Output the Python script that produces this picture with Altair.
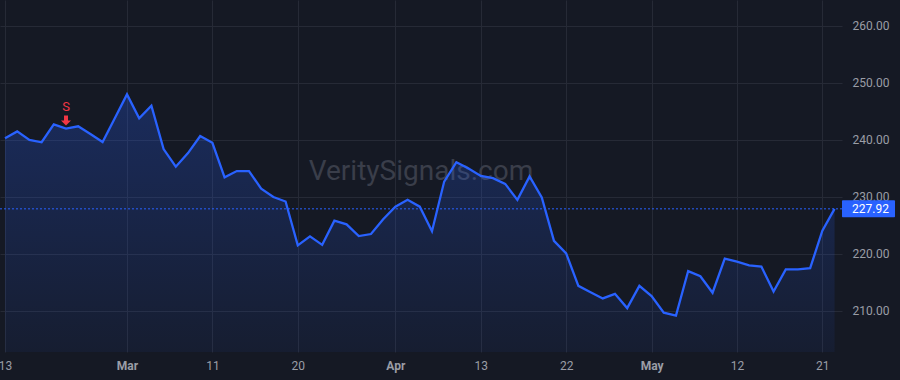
import altair as alt
import pandas as pd

# ---- data ----
prices = [240.3, 241.5, 240.0, 239.6, 242.75, 242.0, 242.4, 241.05, 239.65, 243.8,
          248.0, 243.8, 246.0, 238.4, 235.3, 237.7, 240.7, 239.5, 233.45, 234.55,
          234.55, 231.45, 230.0, 229.2, 221.5, 223.1, 221.6, 225.85, 225.2, 223.15,
          223.5, 226.1, 228.3, 229.5, 228.3, 224.0, 232.7, 236.1, 235.0, 233.7,
          233.3, 232.3, 229.5, 233.6, 229.9, 222.3, 220.1, 214.4, 213.3, 212.2,
          213.0, 210.5, 214.4, 212.6, 209.7, 209.2, 217.0, 216.1, 213.2, 219.2,
          218.65, 218.0, 217.8, 213.4, 217.3, 217.3, 217.5, 224.1, 227.92]
tick_index = [0, 10, 17, 24, 32, 39, 46, 53, 60, 67]
tick_labels = ["13", "Mar", "11", "20", "Apr", "13", "22", "May", "12", "21"]
month_ticks = [10, 32, 53]
price_ticks = [210, 220, 230, 240, 250, 260]
signal_index = [5]
signal_text = ["S"]
last_price = prices[-1]
watermark = "VeritySignals.com"

BG = "#151924"
GRID = "#262a36"
TXT = "#9a9da6"
BLUE = "#2962FF"
RED = "#F23645"
Y_MIN, Y_MAX = 202.8, 264.56
X_MIN, X_MAX = -0.41, 68.61

df = pd.DataFrame({"i": list(range(len(prices))), "price": prices})
sig = pd.DataFrame({"i": signal_index, "price": [prices[k] for k in signal_index], "t": signal_text})
last = pd.DataFrame({"price": [last_price], "t": [f"{last_price:.2f}"]})
wm = pd.DataFrame({"t": [watermark]})

label_map = "{" + ",".join(f"'{k}':'{v}'" for k, v in zip(tick_index, tick_labels)) + "}"
month_test = " || ".join(f"datum.value == {m}" for m in month_ticks)

xscale = alt.Scale(domain=[X_MIN, X_MAX], nice=False, zero=False)
yscale = alt.Scale(domain=[Y_MIN, Y_MAX], nice=False, zero=False)

x_enc = alt.X("i:Q", scale=xscale, axis=alt.Axis(
    values=tick_index, labelExpr=f"{label_map}[datum.value]", title=None,
    grid=True, gridColor=GRID, domain=False, ticks=False, labelPadding=8,
    labelColor=TXT, labelFontSize=12, labelFont="Roboto",
    labelFontWeight={"condition": {"test": month_test, "value": "bold"}, "value": "normal"},
))
y_enc = alt.Y("price:Q", scale=yscale, axis=alt.Axis(
    orient="right", values=price_ticks, format=".2f", title=None,
    grid=True, gridColor=GRID, domain=False, ticks=False, labelPadding=10,
    labelColor=TXT, labelFontSize=12, labelFont="Roboto",
))

wm_layer = alt.Chart(wm).mark_text(
    fontSize=28, font="Roboto", color="#3a3e4a", align="center", baseline="middle"
).encode(x=alt.value(421), y=alt.value(172), text="t:N")

area = alt.Chart(df).mark_area(
    color=alt.Gradient(
        gradient="linear",
        stops=[alt.GradientStop(color="rgba(41,98,255,0.26)", offset=0),
               alt.GradientStop(color="rgba(41,98,255,0.06)", offset=1)],
        x1=1, x2=1, y1=0, y2=1,
    )
).encode(x=x_enc, y=y_enc, y2=alt.datum(Y_MIN))

line = alt.Chart(df).mark_line(color=BLUE, strokeWidth=2.3).encode(x="i:Q", y="price:Q")

rule = alt.Chart(last).mark_rule(color=BLUE, strokeWidth=1, strokeDash=[2, 2]).encode(
    y="price:Q", x=alt.value(0), x2=alt.value(842))

box = alt.Chart(last).mark_rect(color=BLUE, height=17, cornerRadius=1).encode(
    y="price:Q", x=alt.value(842), x2=alt.value(895))
box_text = alt.Chart(last).mark_text(
    color="white", fontSize=12, font="Roboto", align="left", baseline="middle"
).encode(y="price:Q", x=alt.value(852), text="t:N")

arrow_path = "M-0.4,-1 L0.4,-1 L0.4,0 L1,0 L0,1 L-1,0 L-0.4,0 Z"
sig_arrow = alt.Chart(sig).mark_point(
    shape=arrow_path, filled=True, color=RED, size=100, opacity=1, yOffset=-8
).encode(x="i:Q", y="price:Q")
sig_text = alt.Chart(sig).mark_text(
    color=RED, fontSize=13, font="Roboto", baseline="middle", align="center", yOffset=-22
).encode(x="i:Q", y="price:Q", text="t:N")

chart = alt.layer(
    wm_layer, area, line, rule, sig_arrow, sig_text, box, box_text
).properties(
    width=842, height=352, background=BG,
    autosize=alt.AutoSizeParams(type="none"),
    padding={"left": 0, "top": 0, "right": 58, "bottom": 28},
).configure_view(stroke=None, fill=BG)

chart.save("out.html", embed_options={"renderer": "svg", "actions": False})
